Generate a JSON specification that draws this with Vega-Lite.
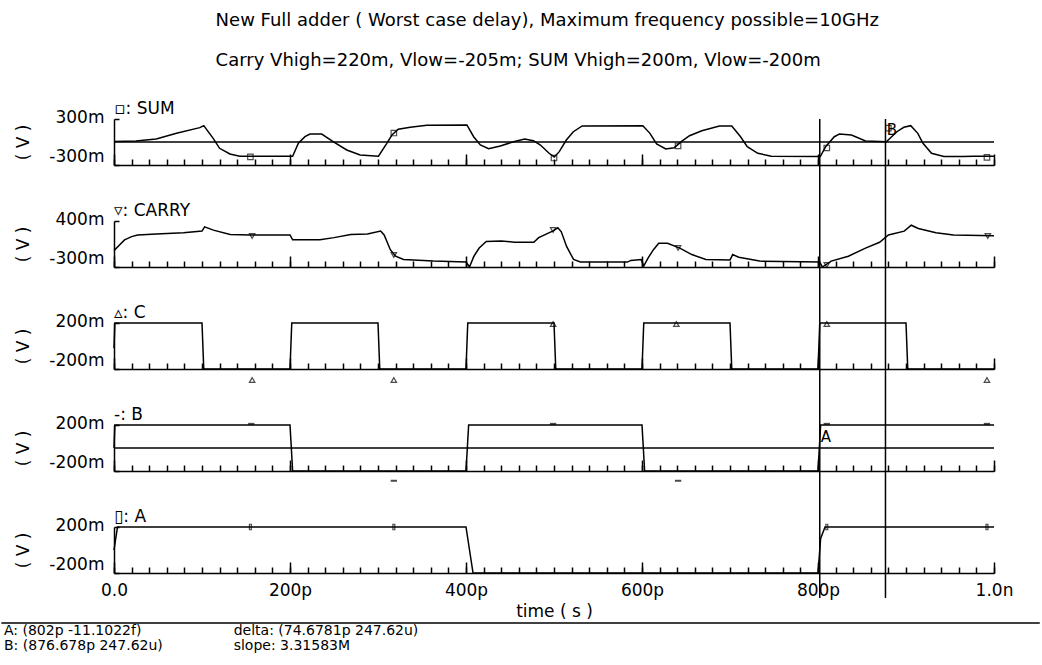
{
  "$schema": "https://vega.github.io/schema/vega-lite/v6.json",
  "background": "white",
  "padding": {"left": 0, "top": 12, "right": 0, "bottom": 0},
  "config": {
    "font": "DejaVu Sans",
    "view": {"stroke": null},
    "axis": {"domainColor": "black", "domainWidth": 1.5, "ticks": true, "tickColor": "black", "tickWidth": 1.5, "labelColor": "black", "titleColor": "black", "labelFontSize": 17, "titleFontSize": 17, "titleFontWeight": "normal", "grid": false, "labelOverlap": false, "labelFlush": false, "labelBound": false}
  },
  "title": {
    "text": ["New Full adder ( Worst case delay), Maximum frequency possible=10GHz", "Carry Vhigh=220m, Vlow=-205m; SUM Vhigh=200m, Vlow=-200m"],
    "anchor": "start", "frame": "bounds", "dx": 215, "fontSize": 18, "fontWeight": "normal", "lineHeight": 40, "offset": 30, "color": "black"
  },
  "bounds": "flush",
  "spacing": 56,
  "resolve": {"scale": {"x": "independent", "y": "independent"}},
  "vconcat": [
    {
      "width": 880, "height": 46,
      "title": {"text": "▫: SUM", "anchor": "start", "frame": "group", "fontSize": 17, "fontWeight": "normal", "offset": -10, "color": "black"},
      "resolve": {"axis": {"x": "independent"}},
      "layer": [
        {"data": {"name": "sum"}, "mark": {"type": "line", "color": "black", "strokeWidth": 1.5},
         "encoding": {
           "x": {"field": "t", "type": "quantitative", "scale": {"domain": [0, 1000]}, "axis": {"orient": "bottom", "values": [0,20,40,60,80,100,120,140,160,180,200,220,240,260,280,300,320,340,360,380,400,420,440,460,480,500,520,540,560,580,600,620,640,660,680,700,720,740,760,780,800,820,840,860,880,900,920,940,960,980,1000], "labels": false, "tickSize": -6, "title": null}},
           "y": {"field": "v", "type": "quantitative", "scale": {"domain": [-300, 300]}, "axis": {"values": [-300,-180,-60,60,180,300], "labelExpr": "datum.value == 300 ? '300m' : datum.value == -300 ? '-300m' : ''", "tickSize": -5, "labelPadding": 15, "labelBaseline": "middle", "labelOffset": {"condition": {"test": "datum.value > 0", "value": -2}, "value": -9}, "title": "( V )", "titlePadding": 16}}
         }},
        {"data": {"name": "zero"}, "mark": {"type": "rule", "color": "black", "strokeWidth": 1.5}, "encoding": {"y": {"field": "v", "type": "quantitative"}}},
        {"data": {"name": "cursors"}, "mark": {"type": "rule", "color": "black", "strokeWidth": 1.5},
         "encoding": {"x": {"field": "t", "type": "quantitative", "axis": {"orient": "bottom", "values": [0,200,400,600,800,1000], "tickSize": -11, "domain": false, "labels": false, "title": null}}, "y": {"datum": 300}, "y2": {"datum": -1030}}},
        {"data": {"name": "markers"}, "transform": [{"filter": "datum.panel == 'SUM'"}], "mark": {"type": "point", "shape": "square", "filled": false, "color": "black", "size": 30, "strokeWidth": 1.2}, "encoding": {"x": {"field": "t", "type": "quantitative", "axis": null}, "y": {"field": "v", "type": "quantitative"}}},
        {"data": {"name": "cursor_labels"}, "transform": [{"filter": "datum.panel == 'SUM'"}], "mark": {"type": "text", "align": "left", "baseline": "middle", "fontSize": 15, "color": "black"}, "encoding": {"x": {"field": "t", "type": "quantitative", "axis": null}, "y": {"field": "v", "type": "quantitative"}, "text": {"field": "label"}}}
      ]
    },
    {
      "width": 880, "height": 46,
      "title": {"text": "▿: CARRY", "anchor": "start", "frame": "group", "fontSize": 17, "fontWeight": "normal", "offset": -10, "color": "black"},
      "resolve": {"axis": {"x": "independent"}},
      "layer": [
        {"data": {"name": "carry"}, "mark": {"type": "line", "color": "black", "strokeWidth": 1.5},
         "encoding": {
           "x": {"field": "t", "type": "quantitative", "scale": {"domain": [0, 1000]}, "axis": {"orient": "bottom", "values": [0,20,40,60,80,100,120,140,160,180,200,220,240,260,280,300,320,340,360,380,400,420,440,460,480,500,520,540,560,580,600,620,640,660,680,700,720,740,760,780,800,820,840,860,880,900,920,940,960,980,1000], "labels": false, "tickSize": -6, "title": null}},
           "y": {"field": "v", "type": "quantitative", "scale": {"domain": [-300, 400]}, "axis": {"values": [-300,-160,-20,120,260,400], "labelExpr": "datum.value == 400 ? '400m' : datum.value == -300 ? '-300m' : ''", "tickSize": -5, "labelPadding": 15, "labelBaseline": "middle", "labelOffset": {"condition": {"test": "datum.value > 0", "value": -2}, "value": -9}, "title": "( V )", "titlePadding": 16}}
         }},
        {"data": {"name": "cursors"}, "mark": {"type": "rule", "color": "black", "strokeWidth": 1.5},
         "encoding": {"x": {"field": "t", "type": "quantitative", "axis": {"orient": "bottom", "values": [0,200,400,600,800,1000], "tickSize": -11, "domain": false, "labels": false, "title": null}}, "y": {"datum": 400}, "y2": {"datum": -1150}}},
        {"data": {"name": "markers"}, "transform": [{"filter": "datum.panel == 'CARRY'"}], "mark": {"type": "point", "shape": "triangle-down", "filled": false, "color": "black", "size": 30, "strokeWidth": 1.2}, "encoding": {"x": {"field": "t", "type": "quantitative", "axis": null}, "y": {"field": "v", "type": "quantitative"}}}
      ]
    },
    {
      "width": 880, "height": 46,
      "title": {"text": "▵: C", "anchor": "start", "frame": "group", "fontSize": 17, "fontWeight": "normal", "offset": -10, "color": "black"},
      "resolve": {"axis": {"x": "independent"}},
      "layer": [
        {"data": {"name": "c"}, "mark": {"type": "line", "color": "black", "strokeWidth": 1.5},
         "encoding": {
           "x": {"field": "t", "type": "quantitative", "scale": {"domain": [0, 1000]}, "axis": {"orient": "bottom", "values": [0,20,40,60,80,100,120,140,160,180,200,220,240,260,280,300,320,340,360,380,400,420,440,460,480,500,520,540,560,580,600,620,640,660,680,700,720,740,760,780,800,820,840,860,880,900,920,940,960,980,1000], "labels": false, "tickSize": -6, "title": null}},
           "y": {"field": "v", "type": "quantitative", "scale": {"domain": [-200, 200]}, "axis": {"values": [-200,-120,-40,40,120,200], "labelExpr": "datum.value == 200 ? '200m' : datum.value == -200 ? '-200m' : ''", "tickSize": -5, "labelPadding": 15, "labelBaseline": "middle", "labelOffset": {"condition": {"test": "datum.value > 0", "value": -2}, "value": -9}, "title": "( V )", "titlePadding": 16}}
         }},
        {"data": {"name": "cursors"}, "mark": {"type": "rule", "color": "black", "strokeWidth": 1.5},
         "encoding": {"x": {"field": "t", "type": "quantitative", "axis": {"orient": "bottom", "values": [0,200,400,600,800,1000], "tickSize": -11, "domain": false, "labels": false, "title": null}}, "y": {"datum": 200}, "y2": {"datum": -687}}},
        {"data": {"name": "markers"}, "transform": [{"filter": "datum.panel == 'C'"}], "mark": {"type": "point", "shape": "triangle-up", "filled": false, "color": "black", "size": 30, "strokeWidth": 1.2}, "encoding": {"x": {"field": "t", "type": "quantitative", "axis": null}, "y": {"field": "v", "type": "quantitative"}}}
      ]
    },
    {
      "width": 880, "height": 46,
      "title": {"text": "-: B", "anchor": "start", "frame": "group", "fontSize": 17, "fontWeight": "normal", "offset": -10, "color": "black"},
      "resolve": {"axis": {"x": "independent"}},
      "layer": [
        {"data": {"name": "b"}, "mark": {"type": "line", "color": "black", "strokeWidth": 1.5},
         "encoding": {
           "x": {"field": "t", "type": "quantitative", "scale": {"domain": [0, 1000]}, "axis": {"orient": "bottom", "values": [0,20,40,60,80,100,120,140,160,180,200,220,240,260,280,300,320,340,360,380,400,420,440,460,480,500,520,540,560,580,600,620,640,660,680,700,720,740,760,780,800,820,840,860,880,900,920,940,960,980,1000], "labels": false, "tickSize": -6, "title": null}},
           "y": {"field": "v", "type": "quantitative", "scale": {"domain": [-200, 200]}, "axis": {"values": [-200,-120,-40,40,120,200], "labelExpr": "datum.value == 200 ? '200m' : datum.value == -200 ? '-200m' : ''", "tickSize": -5, "labelPadding": 15, "labelBaseline": "middle", "labelOffset": {"condition": {"test": "datum.value > 0", "value": -2}, "value": -9}, "title": "( V )", "titlePadding": 16}}
         }},
        {"data": {"name": "zero"}, "mark": {"type": "rule", "color": "black", "strokeWidth": 1.5}, "encoding": {"y": {"field": "v", "type": "quantitative"}}},
        {"data": {"name": "cursors"}, "mark": {"type": "rule", "color": "black", "strokeWidth": 1.5},
         "encoding": {"x": {"field": "t", "type": "quantitative", "axis": {"orient": "bottom", "values": [0,200,400,600,800,1000], "tickSize": -11, "domain": false, "labels": false, "title": null}}, "y": {"datum": 200}, "y2": {"datum": -687}}},
        {"data": {"name": "markers"}, "transform": [{"filter": "datum.panel == 'B'"}], "mark": {"type": "point", "shape": "stroke", "filled": false, "color": "black", "size": 40, "strokeWidth": 2}, "encoding": {"x": {"field": "t", "type": "quantitative", "axis": null}, "y": {"field": "v", "type": "quantitative"}}},
        {"data": {"name": "cursor_labels"}, "transform": [{"filter": "datum.panel == 'B'"}], "mark": {"type": "text", "align": "left", "baseline": "middle", "fontSize": 15, "color": "black"}, "encoding": {"x": {"field": "t", "type": "quantitative", "axis": null}, "y": {"field": "v", "type": "quantitative"}, "text": {"field": "label"}}}
      ]
    },
    {
      "width": 880, "height": 46,
      "title": {"text": "▯: A", "anchor": "start", "frame": "group", "fontSize": 17, "fontWeight": "normal", "offset": -10, "color": "black"},
      "resolve": {"axis": {"x": "independent"}},
      "layer": [
        {"data": {"name": "a"}, "mark": {"type": "line", "color": "black", "strokeWidth": 1.5},
         "encoding": {
           "x": {"field": "t", "type": "quantitative", "scale": {"domain": [0, 1000]}, "axis": {"orient": "bottom", "values": [0,20,40,60,80,100,120,140,160,180,200,220,240,260,280,300,320,340,360,380,400,420,440,460,480,500,520,540,560,580,600,620,640,660,680,700,720,740,760,780,800,820,840,860,880,900,920,940,960,980,1000], "labels": false, "tickSize": -6, "title": null}},
           "y": {"field": "v", "type": "quantitative", "scale": {"domain": [-200, 200]}, "axis": {"values": [-200,-120,-40,40,120,200], "labelExpr": "datum.value == 200 ? '200m' : datum.value == -200 ? '-200m' : ''", "tickSize": -5, "labelPadding": 15, "labelBaseline": "middle", "labelOffset": {"condition": {"test": "datum.value > 0", "value": -2}, "value": -9}, "title": "( V )", "titlePadding": 16}}
         }},
        {"data": {"name": "cursors"}, "mark": {"type": "rule", "color": "black", "strokeWidth": 1.5},
         "encoding": {"x": {"field": "t", "type": "quantitative", "axis": {"orient": "bottom", "values": [0,200,400,600,800,1000], "tickSize": -11, "domain": false, "labelExpr": "datum.value == 0 ? '0.0' : datum.value == 1000 ? '1.0n' : datum.value + 'p'", "labelOverlap": false, "labelPadding": 20, "title": "time ( s )", "titlePadding": 5}}, "y": {"datum": 200}, "y2": {"datum": -417}}},
        {"data": {"name": "markers"}, "transform": [{"filter": "datum.panel == 'A'"}], "mark": {"type": "point", "shape": "M-0.35,-1H0.35V1H-0.35Z", "filled": false, "color": "black", "size": 30, "strokeWidth": 1.2}, "encoding": {"x": {"field": "t", "type": "quantitative", "axis": null}, "y": {"field": "v", "type": "quantitative"}}}
      ]
    },
    {
      "width": 880, "height": 30,
      "layer": [
        {"data": {"name": "footer_rule"}, "mark": {"type": "rule", "color": "black", "strokeWidth": 1.5},
         "encoding": {"x": {"field": "x", "type": "quantitative", "scale": {"domain": [0, 1000]}, "axis": null}, "x2": {"field": "x2"}, "y": {"field": "y", "type": "quantitative", "scale": {"domain": [0, 3]}, "axis": null}}},
        {"data": {"name": "footer"}, "mark": {"type": "text", "align": "left", "baseline": "middle", "fontSize": 14, "color": "black"},
         "encoding": {"x": {"field": "x", "type": "quantitative"}, "y": {"field": "y", "type": "quantitative"}, "text": {"field": "text"}}}
      ]
    }
  ],
  "datasets": {
    "sum": [
      {"t": 0, "v": 7}, {"t": 25, "v": 13}, {"t": 48, "v": 39}, {"t": 71, "v": 113}, {"t": 97.5, "v": 187}, {"t": 102, "v": 213},
      {"t": 112.7, "v": 48}, {"t": 120, "v": -82}, {"t": 131.7, "v": -156}, {"t": 143, "v": -185}, {"t": 203, "v": -185},
      {"t": 209.5, "v": -17}, {"t": 217, "v": 69}, {"t": 222.8, "v": 104}, {"t": 236, "v": 104}, {"t": 249, "v": 4},
      {"t": 264.5, "v": -104}, {"t": 279.7, "v": -169}, {"t": 300.5, "v": -185}, {"t": 310, "v": -17}, {"t": 315.8, "v": 91},
      {"t": 323, "v": 166}, {"t": 336.6, "v": 192}, {"t": 355.6, "v": 218}, {"t": 401, "v": 222}, {"t": 408.7, "v": 69},
      {"t": 416.3, "v": -39}, {"t": 425.7, "v": -87}, {"t": 439, "v": -52}, {"t": 454, "v": 4}, {"t": 466.7, "v": 39},
      {"t": 476.6, "v": 17}, {"t": 484.6, "v": -39}, {"t": 494.4, "v": -147}, {"t": 500.3, "v": -195}, {"t": 506, "v": -126},
      {"t": 514, "v": 26}, {"t": 522, "v": 134}, {"t": 532, "v": 209}, {"t": 601, "v": 213}, {"t": 609, "v": 113},
      {"t": 616.6, "v": -26}, {"t": 627, "v": -91}, {"t": 636.7, "v": -74}, {"t": 644.6, "v": 4}, {"t": 654, "v": 82},
      {"t": 668, "v": 147}, {"t": 688, "v": 209}, {"t": 702, "v": 209}, {"t": 712, "v": 69}, {"t": 719.6, "v": -61},
      {"t": 731.6, "v": -147}, {"t": 747, "v": -185}, {"t": 802.6, "v": -189}, {"t": 808.7, "v": -61}, {"t": 818.5, "v": 69},
      {"t": 824.4, "v": 104}, {"t": 838, "v": 91}, {"t": 854, "v": 13}, {"t": 877.7, "v": 4}, {"t": 889.6, "v": 134},
      {"t": 897.5, "v": 192}, {"t": 905.4, "v": 213}, {"t": 913.4, "v": 113}, {"t": 919.3, "v": -17}, {"t": 929, "v": -147},
      {"t": 943, "v": -189}, {"t": 964.7, "v": -189}, {"t": 976.5, "v": -185}, {"t": 1000, "v": -185}
    ],
    "carry": [
      {"t": 0, "v": -51}, {"t": 6.5, "v": 38}, {"t": 12, "v": 113}, {"t": 20, "v": 162}, {"t": 27, "v": 187}, {"t": 48, "v": 202},
      {"t": 79, "v": 221}, {"t": 100, "v": 246}, {"t": 103, "v": 311}, {"t": 113, "v": 261}, {"t": 132, "v": 196}, {"t": 155, "v": 187},
      {"t": 200, "v": 187}, {"t": 203, "v": 113}, {"t": 234, "v": 113}, {"t": 250, "v": 147}, {"t": 269, "v": 196}, {"t": 288, "v": 202},
      {"t": 303, "v": 246}, {"t": 307, "v": 187}, {"t": 314, "v": -37}, {"t": 320, "v": -136}, {"t": 329, "v": -185}, {"t": 363, "v": -210},
      {"t": 400, "v": -225}, {"t": 404, "v": -300}, {"t": 409, "v": -136}, {"t": 415, "v": -12}, {"t": 423, "v": 87}, {"t": 440, "v": 97},
      {"t": 455, "v": 77}, {"t": 477, "v": 77}, {"t": 482.6, "v": 147}, {"t": 498.4, "v": 246}, {"t": 504.4, "v": 296}, {"t": 508.3, "v": 236},
      {"t": 514.3, "v": 13}, {"t": 522.2, "v": -185}, {"t": 530, "v": -225}, {"t": 583.4, "v": -225}, {"t": 587.3, "v": -200}, {"t": 599, "v": -185},
      {"t": 602, "v": -285}, {"t": 607, "v": -161}, {"t": 613, "v": -37}, {"t": 619, "v": 62}, {"t": 629, "v": 62}, {"t": 643, "v": -12},
      {"t": 656.6, "v": -111}, {"t": 672.6, "v": -185}, {"t": 700, "v": -195}, {"t": 703, "v": -111}, {"t": 710, "v": -151}, {"t": 733.6, "v": -210},
      {"t": 802, "v": -225}, {"t": 805, "v": -300}, {"t": 815, "v": -210}, {"t": 834.5, "v": -136}, {"t": 854, "v": -12}, {"t": 870, "v": 77},
      {"t": 880, "v": 187}, {"t": 898, "v": 246}, {"t": 906, "v": 336}, {"t": 914, "v": 286}, {"t": 934, "v": 221}, {"t": 954, "v": 187},
      {"t": 1000, "v": 177}
    ],
    "c": [
      {"t": 0, "v": -20}, {"t": 1, "v": 200}, {"t": 100, "v": 200}, {"t": 102, "v": -200}, {"t": 200, "v": -200}, {"t": 202, "v": 200},
      {"t": 300, "v": 200}, {"t": 302, "v": -200}, {"t": 400, "v": -200}, {"t": 402, "v": 200}, {"t": 500, "v": 200}, {"t": 502, "v": -200},
      {"t": 600, "v": -200}, {"t": 602, "v": 200}, {"t": 700, "v": 200}, {"t": 702, "v": -200}, {"t": 800, "v": -200}, {"t": 802, "v": 200},
      {"t": 900, "v": 200}, {"t": 902, "v": -200}, {"t": 1000, "v": -200}
    ],
    "b": [
      {"t": 0, "v": 0}, {"t": 1, "v": 200}, {"t": 200, "v": 200}, {"t": 203, "v": -200}, {"t": 400, "v": -200}, {"t": 403, "v": 200},
      {"t": 600, "v": 200}, {"t": 603, "v": -200}, {"t": 800, "v": -200}, {"t": 803, "v": 200}, {"t": 1000, "v": 200}
    ],
    "a": [
      {"t": 0, "v": 0}, {"t": 4, "v": 200}, {"t": 400, "v": 200}, {"t": 404, "v": 0}, {"t": 408, "v": -200}, {"t": 800, "v": -200},
      {"t": 803, "v": 100}, {"t": 808, "v": 200}, {"t": 1000, "v": 200}
    ],
    "zero": [{"v": 0}],
    "cursors": [{"t": 802, "name": "A"}, {"t": 876.678, "name": "B"}],
    "cursor_labels": [{"panel": "SUM", "t": 878, "v": 160, "label": "B"}, {"panel": "B", "t": 803, "v": 96, "label": "A"}],
    "markers": [
      {"panel": "SUM", "t": 155, "v": -195}, {"panel": "SUM", "t": 318, "v": 117}, {"panel": "SUM", "t": 500, "v": -209}, {"panel": "SUM", "t": 641, "v": -52}, {"panel": "SUM", "t": 810, "v": -78}, {"panel": "SUM", "t": 880, "v": 180}, {"panel": "SUM", "t": 992, "v": -200},
      {"panel": "CARRY", "t": 157, "v": 172}, {"panel": "CARRY", "t": 318, "v": -117}, {"panel": "CARRY", "t": 499, "v": 263}, {"panel": "CARRY", "t": 641, "v": -10}, {"panel": "CARRY", "t": 810, "v": -269}, {"panel": "CARRY", "t": 993, "v": 172},
      {"panel": "C", "t": 157, "v": -296}, {"panel": "C", "t": 318, "v": -296}, {"panel": "C", "t": 499, "v": 191}, {"panel": "C", "t": 639, "v": 191}, {"panel": "C", "t": 810, "v": 191}, {"panel": "C", "t": 992, "v": -296},
      {"panel": "B", "t": 156, "v": 210}, {"panel": "B", "t": 318, "v": -285}, {"panel": "B", "t": 499, "v": 210}, {"panel": "B", "t": 641, "v": -285}, {"panel": "B", "t": 810, "v": 210}, {"panel": "B", "t": 992, "v": 210},
      {"panel": "A", "t": 155, "v": 200}, {"panel": "A", "t": 318, "v": 200}, {"panel": "A", "t": 810, "v": 200}, {"panel": "A", "t": 992, "v": 200}
    ],
    "footer_rule": [{"x": -128, "x2": 1052, "y": 3.6}],
    "footer": [
      {"x": -125, "y": 2.8, "text": "A: (802p -11.1022f)"},
      {"x": -125, "y": 1.3, "text": "B: (876.678p 247.62u)"},
      {"x": 136, "y": 2.8, "text": "delta: (74.6781p 247.62u)"},
      {"x": 136, "y": 1.3, "text": "slope: 3.31583M"}
    ]
  }
}
